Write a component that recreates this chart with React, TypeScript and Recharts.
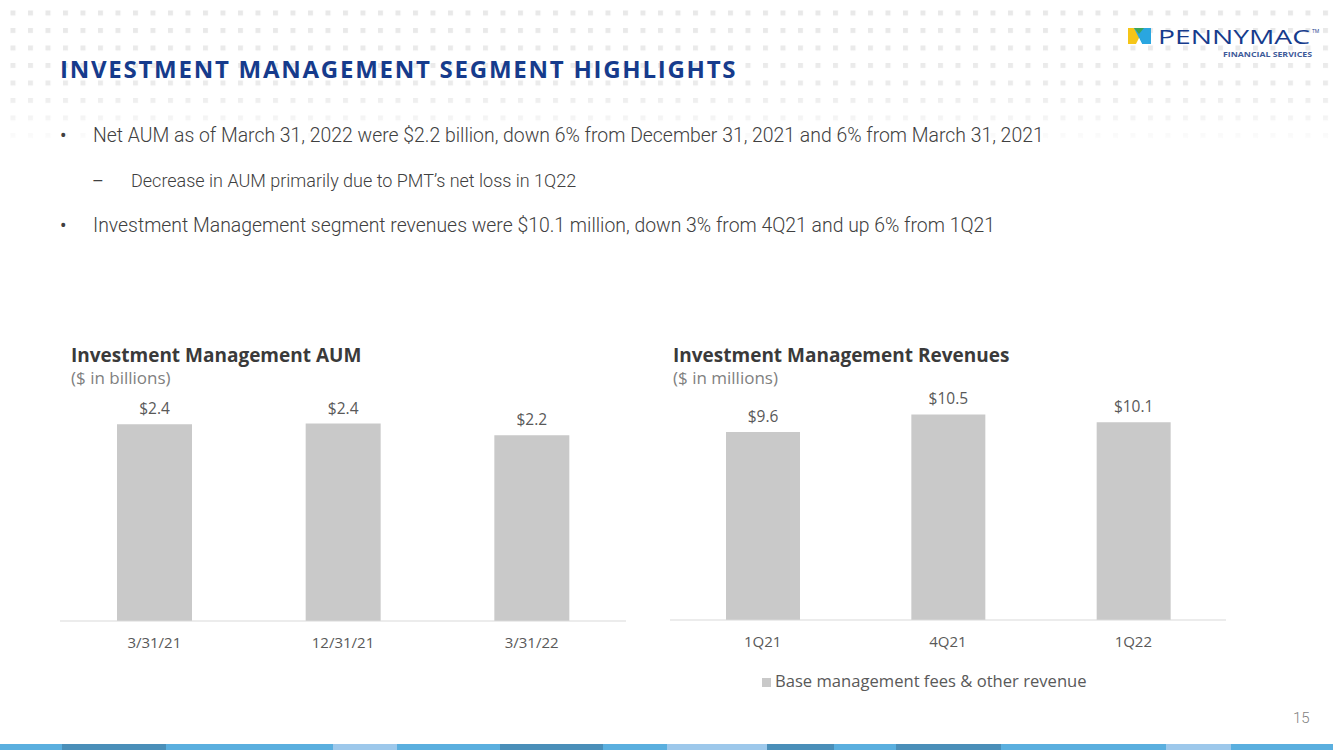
import React from 'react';
import { BarChart, Bar, XAxis, YAxis, LabelList, Legend } from 'recharts';

// AUM, $ in billions
const aumDates = ['3/31/21', '12/31/21', '3/31/22'];
const aumValues = [2.36, 2.37, 2.23];

// revenues, $ in millions
const revQuarters = ['1Q21', '4Q21', '1Q22'];
const revValues = [9.6, 10.5, 10.1];
const revSeriesName = 'Base management fees & other revenue';

const bullets = [
  { sub: false, text: 'Net AUM as of March 31, 2022 were $2.2 billion, down 6% from December 31, 2021 and 6% from March 31, 2021' },
  { sub: true, text: 'Decrease in AUM primarily due to PMT\u2019s net loss in 1Q22' },
  { sub: false, text: 'Investment Management segment revenues were $10.1 million, down 3% from 4Q21 and up 6% from 1Q21' },
];

// footer strip segments [from, to, colour]
const stripSegments: [number, number, string][] = [
  [0, 62, '#5aafdf'], [62, 166, '#4a8fb9'], [166, 333, '#5aafdf'], [333, 397, '#9dc8eb'],
  [397, 500, '#5aafdf'], [500, 603, '#4a8fb9'], [603, 667, '#5aafdf'], [667, 767, '#9dc8eb'],
  [767, 834, '#4a8fb9'], [834, 896, '#5aafdf'], [896, 1001, '#4a8fb9'], [1001, 1166, '#5aafdf'],
  [1166, 1231, '#9dc8eb'], [1231, 1333, '#5aafdf'],
];

const CHART_FONT = '"Open Sans", sans-serif';
const GREY_TEXT = '#595959';
const BAR_FILL = '#c9c9c9';
const NAVY = '#163b8c';

const aumData = aumDates.map((d, i) => ({ date: d, aum: aumValues[i] }));
const revData = revQuarters.map((q, i) => ({ q, rev: revValues[i] }));

const money = (v: any) => `$${Number(v).toFixed(1)}`;

function DotBackdrop() {
  return (
    <svg width={1333} height={150} style={{ position: 'absolute', left: 0, top: 0 }}>
      <defs>
        <pattern id="dots" x={10.5} y={10.5} width={17.5} height={17.5} patternUnits="userSpaceOnUse">
          <rect x={0} y={0} width={5} height={5} fill="#e8e8e8" />
        </pattern>
        <linearGradient id="fade" x1="0" y1="0" x2="0" y2="1">
          <stop offset="0" stopColor="#fff" stopOpacity={1} />
          <stop offset="0.6" stopColor="#fff" stopOpacity={0.85} />
          <stop offset="1" stopColor="#fff" stopOpacity={0} />
        </linearGradient>
        <mask id="fadeMask">
          <rect x={0} y={0} width={1333} height={150} fill="url(#fade)" />
        </mask>
      </defs>
      <rect x={0} y={0} width={1333} height={150} fill="url(#dots)" mask="url(#fadeMask)" />
    </svg>
  );
}

function Logo() {
  return (
    <svg width={200} height={40} style={{ position: 'absolute', left: 1124, top: 24 }}>
      <polygon points="4,4 15,4 15,20 4,20" fill="#f5c518" />
      <polygon points="10,4 27,4 27,20 18,20" fill="#2aa6e0" />
      <polygon points="10,4 20,4 15,10" fill="#3aa55a" />
      <polygon points="12,20 15,14 18,20" fill="#fff" />
      <text x={34} y={20} fontFamily='"Open Sans", sans-serif' fontSize={20} fill={NAVY} textLength={152} lengthAdjust="spacingAndGlyphs">PENNYMAC</text>
      <text x={188} y={9} fontFamily='"Open Sans", sans-serif' fontSize={5} fill={NAVY}>TM</text>
      <text x={99} y={33} fontFamily='"Open Sans", sans-serif' fontSize={7.5} fontWeight={700} fill="#3d5a99" textLength={89} lengthAdjust="spacingAndGlyphs">FINANCIAL SERVICES</text>
    </svg>
  );
}

function ChartTitle({ left, title, unit }: { left: number; title: string; unit: string }) {
  return (
    <div style={{ position: 'absolute', left, top: 344, fontFamily: CHART_FONT, whiteSpace: 'nowrap' }}>
      <div style={{ fontWeight: 700, fontSize: 19, color: '#3a3a3a', lineHeight: '22px' }}>{title}</div>
      <div style={{ fontSize: 17, color: '#7f7f7f', lineHeight: '22px', marginTop: 1 }}>{unit}</div>
    </div>
  );
}

const tickStyle = { fontFamily: CHART_FONT, fontSize: 15, fill: GREY_TEXT };
const labelStyle = { fontFamily: CHART_FONT, fontSize: 15.5, fill: GREY_TEXT };

export default function App() {
  return (
    <div style={{ position: 'absolute', left: 0, top: 0, width: 1333, height: 750, background: '#fff', overflow: 'hidden' }}>
      <DotBackdrop />
      <Logo />
      <div style={{ position: 'absolute', left: 60, top: 52, fontFamily: '"Open Sans", sans-serif', fontWeight: 700, fontSize: 24, color: NAVY, letterSpacing: 1.75, whiteSpace: 'nowrap' }}>
        INVESTMENT MANAGEMENT SEGMENT HIGHLIGHTS
      </div>

      {bullets.map((b, i) => (
        <div key={i} style={{ position: 'absolute', left: b.sub ? 92 : 60, top: b.sub ? 170 : 124 + i * 45, fontFamily: 'Roboto, sans-serif', fontWeight: 300, fontSize: b.sub ? 18 : 19.4, color: '#404040', whiteSpace: 'nowrap' }}>
          <span style={{ display: 'inline-block', width: b.sub ? 39 : 33, fontWeight: 400 }}>{b.sub ? '\u2013' : '\u2022'}</span>
          {b.text}
        </div>
      ))}

      <ChartTitle left={71} title="Investment Management AUM" unit="($ in billions)" />
      <ChartTitle left={673} title="Investment Management Revenues" unit="($ in millions)" />

      <div style={{ position: 'absolute', left: 60, top: 340 }}>
        <BarChart width={566} height={321} data={aumData} margin={{ top: 31, right: 0, bottom: 0, left: 0 }} barCategoryGap="30%">
          <XAxis dataKey="date" height={40} tickLine={false} axisLine={{ stroke: '#d9d9d9' }} tick={tickStyle} tickMargin={10} interval={0} />
          <YAxis hide domain={[0, 3]} />
          <Bar dataKey="aum" fill={BAR_FILL} barSize={75} isAnimationActive={false}>
            <LabelList dataKey="aum" position="top" offset={10} formatter={money} style={labelStyle} />
          </Bar>
        </BarChart>
      </div>

      <div style={{ position: 'absolute', left: 670, top: 340 }}>
        <BarChart width={556} height={352} data={revData} margin={{ top: 45, right: 0, bottom: 0, left: 0 }} barCategoryGap="30%">
          <XAxis dataKey="q" height={49} tickLine={false} axisLine={{ stroke: '#d9d9d9' }} tick={tickStyle} tickMargin={10} interval={0} />
          <YAxis hide domain={[0, 12]} />
          <Legend
            verticalAlign="bottom"
            align="left"
            iconType="square"
            iconSize={9}
            wrapperStyle={{ paddingLeft: 92, fontFamily: CHART_FONT, fontSize: 16.6 }}
            formatter={(value: any) => <span style={{ color: GREY_TEXT }}>{value}</span>}
          />
          <Bar dataKey="rev" name={revSeriesName} fill={BAR_FILL} barSize={74} isAnimationActive={false}>
            <LabelList dataKey="rev" position="top" offset={10} formatter={money} style={labelStyle} />
          </Bar>
        </BarChart>
      </div>

      <div style={{ position: 'absolute', left: 1293, top: 709, fontFamily: 'Roboto, sans-serif', fontWeight: 300, fontSize: 15, color: '#7f7f7f' }}>15</div>

      {stripSegments.map(([a, b, c], i) => (
        <div key={i} style={{ position: 'absolute', left: a, top: 744, width: b - a, height: 6, background: c }} />
      ))}
    </div>
  );
}
